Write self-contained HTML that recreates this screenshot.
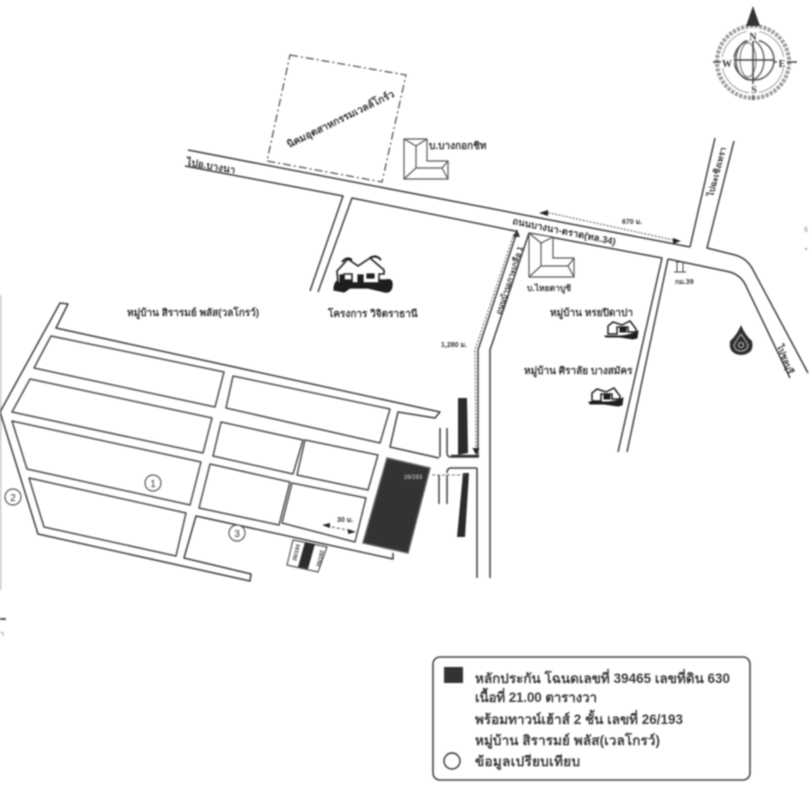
<!DOCTYPE html>
<html lang="th">
<head>
<meta charset="utf-8">
<title>แผนที่</title>
<style>
html,body{margin:0;padding:0;background:#fff;width:809px;height:800px;overflow:hidden}
svg{display:block;filter:blur(.7px)}
text{font-family:"Liberation Sans","Noto Sans CJK SC",sans-serif;fill:#333;font-weight:700}
.r{fill:none;stroke:#3c3c3c;stroke-width:1.5;stroke-linejoin:round}
.b{fill:#fff;stroke:#4a4a4a;stroke-width:1.5;stroke-linejoin:round}
.m{font-size:10px}
.s{font-size:7px}
.l{font-size:13.4px;fill:#3a3a3a}
</style>
</head>
<body>
<svg width="809" height="800" viewBox="0 0 809 800" xmlns="http://www.w3.org/2000/svg">
<rect width="809" height="800" fill="#fff"/>
<path d="M0.5 295V590" stroke="#bbb" stroke-width="1.5"/>

<!-- Village outline -->
<path class="r" d="M0 412L60 303L68 304L56 328L440 412L435 418L398 412L390 447L439 458"/>
<path class="r" d="M0 412L38 534L250 581L251 574L184 558L196 516L393 559L393 553"/>
<polygon class="b" points="51,336 224,372 215,407 34,368"/>
<polygon class="b" points="30,379 212,418 203,453 12,412"/>
<polygon class="b" points="12,421 201,462 190,505 27,469"/>
<polygon class="b" points="29,478 186,513 176,556 44,527"/>
<polygon class="b" points="233,376 390,409 380,443 226,408"/>
<polygon class="b" points="221,422 303,440 293,474 213,456"/>
<polygon class="b" points="305,440 378,455 368,490 297,475"/>
<polygon class="b" points="210,464 290,482 279,525 199,508"/>
<polygon class="b" points="292,483 366,498 355,542 282,523"/>

<!-- Subject parcel -->
<polygon points="387,458 430,468 408,553 363,543" fill="#333" stroke="#666" stroke-width="1.5"/>
<text x="404" y="479" font-size="6" style="fill:#aaa">26/193</text>

<!-- Small plots -->
<polygon points="293,540 327,547 318,572 287,565" fill="#fff" stroke="#555" stroke-width="1.2"/>
<polygon points="305,542 315,544 308,569 298,567" fill="#2c2c2c"/>
<text transform="translate(298,553) rotate(-76)" font-size="5.5" text-anchor="middle">26/194</text>
<text transform="translate(322,559) rotate(-76)" font-size="5.5" text-anchor="middle">26/192</text>

<!-- Side roads near parcel -->
<path class="r" d="M440 428V457M447 428V453Q447 457 451 457H479"/>
<path class="r" d="M439 475V504M447 475V504M447 473Q447 468 451 468H477"/>
<path d="M458 398H467L468 453L458 455Z" fill="#2b2b2b"/>
<path d="M463 473H469L465 537H457Z" fill="#2b2b2b"/>
<path d="M451 456H479" stroke="#333" stroke-width="2.5" fill="none"/>

<!-- Main N-S soi -->
<path class="r" d="M517 232L478 350V457M477 468V578"/>
<path class="r" d="M529 233L490 350V578"/>
<path d="M514 234L475 350L476 449" fill="none" stroke="#555" stroke-width="1" stroke-dasharray="2 1.5"/>
<path d="M476 455L472.5 448H479.5Z" fill="#222"/>
<path d="M517 229L513 237H520Z" fill="#333"/>
<path d="M432 475H466" stroke="#666" stroke-width="1" stroke-dasharray="3 2" fill="none"/>

<!-- Main E-W road -->
<path class="r" d="M188 150L690 247"/>
<path class="r" d="M185 166L343 196L310 291"/>
<path class="r" d="M318 292L352 198L515 231L517 232"/>
<path class="r" d="M529 233L662 258L618 452"/>
<path class="r" d="M668 259L627 452"/>
<path class="r" d="M668 259L730 272Q740 275 745 284L790 378"/>
<path class="r" d="M690 247L715 138"/>
<path class="r" d="M734 141L707 248L735 255Q746 258 752 268L808 373"/>

<!-- Distance arrow 670 -->
<path d="M545 212L678 241" stroke="#555" stroke-width="1" stroke-dasharray="2 1.5" fill="none"/>
<path d="M539 213L548 210V216Z" fill="#222"/>
<path d="M681 241L673 238V244Z" fill="#222"/>

<!-- 30 m arrow -->
<path d="M327 526L352 531" stroke="#555" stroke-width="1" stroke-dasharray="3 2" fill="none"/>
<path d="M322 525L330 523V528Z" fill="#222"/>
<path d="M356 532L348 529V534Z" fill="#222"/>

<!-- Dash-dot boundary -->
<polygon points="290,55 406,75 382,182 267,161" fill="none" stroke="#555" stroke-width="1.3" stroke-dasharray="8 3 2 3"/>

<!-- L-shaped buildings -->
<g fill="#fff" stroke="#555" stroke-width="1.2">
<path d="M404 139H427V161H448V179H404Z"/>
<path d="M404 139L416 146V168L404 179M427 139L416 146M416 168H442L448 161M442 168L448 179" fill="none"/>
<path d="M529 233L553 237V258H574V277H529Z"/>
<path d="M529 233L541 243L553 237M541 243V266L529 277M541 266H568L574 258M568 266L574 277" fill="none"/>
</g>

<!-- House icon: large -->
<g fill="#1e1e1e" stroke="#1e1e1e" stroke-width="1.2">
<path d="M334 290Q334 281 340 280H386Q393 278 392 286Q391 293 385 292L368 288H350L344 292Z"/>
<path d="M337 271L348 259L358 266L370 258L384 270L384 274H379V283H352V274H344V283H338Z" fill="#fff" stroke-width="1.6"/>
<path d="M358 275H363V282H358ZM367 274H374V278H367Z"/>
<path d="M342 262Q347 256 352 260M370 258Q376 254 381 260" fill="none" stroke-width="2"/>
<path d="M340 275H344V283H340Z"/>
</g>

<!-- House icons small -->
<g fill="#1e1e1e" stroke="#1e1e1e" stroke-width="1">
<path d="M605 336H620Q632 335 638 331L637 338L633 339L620 337H606Z"/>
<path d="M608 334V326L613 322L622 325L630 321L636 329V332H628V327H617V334Z" fill="#fff" stroke-width="1.5"/>
<path d="M620 328H626V332H620Z"/>
<path d="M589 402H604Q616 402 623 398L622 405L618 406L604 404H590Z"/>
<path d="M592 401V393L597 389L606 392L614 388L620 396V399H612V394H601V401Z" fill="#fff" stroke-width="1.5"/>
<path d="M604 395H610V399H604Z"/>
</g>

<!-- Small marker km 39 -->
<g stroke="#444" fill="none" stroke-width="1">
<path d="M676 262H684M677 262V272M683 262V272M674 272H686"/>
</g>
<text x="675" y="284" class="s">กม.39</text>

<!-- Temple drop icon -->
<path d="M741 325Q745 335 752 341Q755 354 741 355Q728 354 730 341Q737 335 741 325Z" fill="#2f2f2f"/>
<path d="M741 334Q746 341 748 345Q747 351 741 351Q735 351 734 345Q736 341 741 334Z" fill="none" stroke="#bbb" stroke-width="1"/>
<circle cx="741" cy="345" r="2.5" fill="none" stroke="#ccc"/>

<!-- Labels -->
<text x="127" y="316" class="m">หมู่บ้าน สิรารมย์ พลัส(วลโกรว์)</text>
<text x="328" y="317" class="m">โครงการ วิจิตราธานี</text>
<text x="550" y="316" class="m">หมู่บ้าน หรยปิดาปา</text>
<text x="524" y="374" class="m">หมู่บ้าน ศิราลัย บางสมัคร</text>
<text x="429" y="149" class="m">บ.บางกอกชิท</text>
<text x="527" y="291" style="font-size:8.5px">บ.ไหยตาบูชิ</text>
<text transform="translate(186,165) rotate(10)" class="m">ไปอ.บางนา</text>
<text transform="translate(512,224) rotate(11.5)" style="font-size:9.6px">ถนนบางนา-ตราด(ทล.34)</text>
<text transform="translate(501,315) rotate(-72)" style="font-size:8px">ถนนบ้านเกาะเกลือ 1</text>
<text transform="translate(713,197) rotate(-75)" style="font-size:8.5px">ไปฉะเชิงเทรา</text>
<text transform="translate(777,346) rotate(68)" style="font-size:8.5px">ไปชลบุรี</text>
<text transform="translate(289,148) rotate(-26)" font-size="10">นิคมอุตสาหกรรมเวลล์โกร์ว</text>
<text x="622" y="224" class="s">670 ม.</text>
<text x="441" y="347" class="s">1,280 ม.</text>
<text x="337" y="522" class="s">30 ม.</text>

<!-- Circled numbers -->
<g fill="#fff" stroke="#555" stroke-width="1.2">
<circle cx="153" cy="483" r="8"/>
<circle cx="13" cy="497" r="8"/>
<circle cx="237" cy="533" r="8"/>
</g>
<text x="153" y="487" font-size="10" text-anchor="middle" style="font-weight:400">1</text>
<text x="13" y="501" font-size="10" text-anchor="middle" style="font-weight:400">2</text>
<text x="237" y="537" font-size="10" text-anchor="middle" style="font-weight:400">3</text>

<!-- Compass -->
<g fill="none">
<circle cx="753" cy="62" r="36" stroke-width="4" stroke-dasharray="3 1.5" stroke="#999"/>
<circle cx="753" cy="62" r="31" stroke-width=".8" stroke="#888"/>
<circle cx="754" cy="60" r="20" stroke-width="1.5" stroke="#555"/>
<ellipse cx="750" cy="60" rx="14" ry="20" stroke-width="1.3" stroke="#555"/>
<ellipse cx="748" cy="60" rx="8" ry="17" stroke-width="1" stroke="#666"/>
<path d="M713 62H732M774 62H797M753 38V100M732 60H774" stroke-width="1.5" stroke="#444"/>
</g>
<path d="M753 6L746 26H760Z" fill="#333"/>
<rect x="747" y="30" width="12" height="11" fill="#fff"/>
<rect x="721" y="57" width="13" height="11" fill="#fff"/>
<rect x="777" y="57" width="10" height="11" fill="#fff"/>
<rect x="749" y="84" width="10" height="11" fill="#fff"/>
<text x="753" y="40" text-anchor="middle" font-size="10" style="font-family:'Liberation Serif',serif">N</text>
<text x="727" y="67" text-anchor="middle" font-size="10" style="font-family:'Liberation Serif',serif">W</text>
<text x="782" y="67" text-anchor="middle" font-size="10" style="font-family:'Liberation Serif',serif">E</text>
<text x="754" y="93" text-anchor="middle" font-size="10" style="font-family:'Liberation Serif',serif">S</text>

<!-- Margin specks -->
<path d="M0 619H6" stroke="#555" stroke-width="2"/>
<text x="0" y="636" font-size="7" style="fill:#999">า</text>
<text x="804" y="232" font-size="7" style="fill:#aaa">5</text>
<circle cx="806" cy="249" r="1" fill="#888"/>

<!-- Legend -->
<rect x="433" y="657" width="317" height="123" rx="7" fill="#fff" stroke="#444" stroke-width="1.6"/>
<rect x="444" y="667" width="19" height="16" fill="#333"/>
<circle cx="452" cy="761" r="8" fill="#fff" stroke="#333" stroke-width="1.4"/>
<text x="475" y="683" class="l" textLength="255" lengthAdjust="spacing">หลักประกัน โฉนดเลขที่ 39465 เลขที่ดิน 630</text>
<text x="475" y="702" class="l" textLength="122" lengthAdjust="spacing">เนื้อที่ 21.00 ตารางวา</text>
<text x="475" y="724" class="l" textLength="208" lengthAdjust="spacing">พร้อมทาวน์เฮ้าส์ 2 ชั้น เลขที่ 26/193</text>
<text x="475" y="745" class="l" textLength="185" lengthAdjust="spacing">หมู่บ้าน สิรารมย์ พลัส(เวลโกรว์)</text>
<text x="475" y="766" class="l" textLength="105" lengthAdjust="spacing">ข้อมูลเปรียบเทียบ</text>
</svg>
</body>
</html>
